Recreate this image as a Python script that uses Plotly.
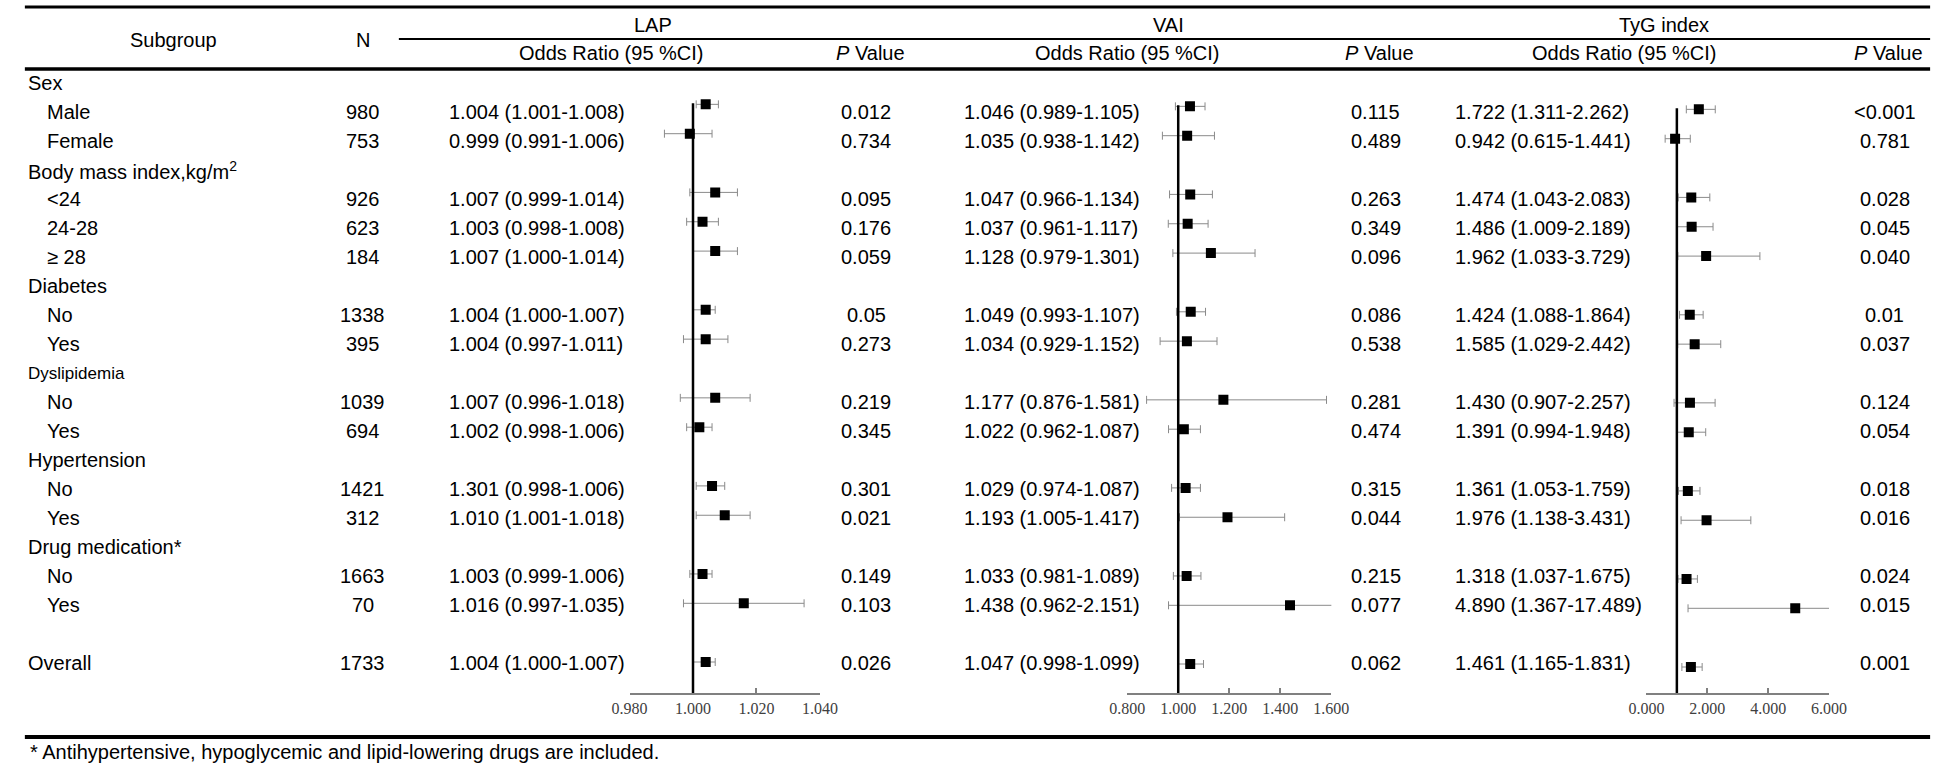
import plotly.graph_objects as go

W, H = 1954, 769

# ---------------- data ----------------
row_labels = ["Sex", "Male", "Female", "Body mass index,kg/m<sup>2</sup>", "<24", "24-28", "≥ 28",
              "Diabetes", "No", "Yes", "Dyslipidemia", "No", "Yes", "Hypertension", "No", "Yes",
              "Drug medication*", "No", "Yes", "Overall"]
row_level = [0, 1, 1, 0, 1, 1, 1, 0, 1, 1, 0, 1, 1, 0, 1, 1, 0, 1, 1, 0]
row_index = [0, 1, 2, 3, 4, 5, 6, 7, 8, 9, 10, 11, 12, 13, 14, 15, 16, 17, 18, 20]

n_values = ["", "980", "753", "", "926", "623", "184", "", "1338", "395", "", "1039", "694", "",
            "1421", "312", "", "1663", "70", "1733"]

# positions in the row lists that carry estimates
data_rows = [1, 2, 4, 5, 6, 8, 9, 11, 12, 14, 15, 17, 18, 19]

lap_text = ["1.004 (1.001-1.008)", "0.999 (0.991-1.006)", "1.007 (0.999-1.014)", "1.003 (0.998-1.008)",
            "1.007 (1.000-1.014)", "1.004 (1.000-1.007)", "1.004 (0.997-1.011)", "1.007 (0.996-1.018)",
            "1.002 (0.998-1.006)", "1.301 (0.998-1.006)", "1.010 (1.001-1.018)", "1.003 (0.999-1.006)",
            "1.016 (0.997-1.035)", "1.004 (1.000-1.007)"]
lap_p = ["0.012", "0.734", "0.095", "0.176", "0.059", "0.05", "0.273", "0.219", "0.345", "0.301",
         "0.021", "0.149", "0.103", "0.026"]
lap_or = [1.004, 0.999, 1.007, 1.003, 1.007, 1.004, 1.004, 1.007, 1.002, 1.006, 1.010, 1.003, 1.016, 1.004]
lap_lo = [1.001, 0.991, 0.999, 0.998, 1.000, 1.000, 0.997, 0.996, 0.998, 1.001, 1.001, 0.999, 0.997, 1.000]
lap_hi = [1.008, 1.006, 1.014, 1.008, 1.014, 1.007, 1.011, 1.018, 1.006, 1.010, 1.018, 1.006, 1.035, 1.007]

vai_text = ["1.046 (0.989-1.105)", "1.035 (0.938-1.142)", "1.047 (0.966-1.134)", "1.037 (0.961-1.117)",
            "1.128 (0.979-1.301)", "1.049 (0.993-1.107)", "1.034 (0.929-1.152)", "1.177 (0.876-1.581)",
            "1.022 (0.962-1.087)", "1.029 (0.974-1.087)", "1.193 (1.005-1.417)", "1.033 (0.981-1.089)",
            "1.438 (0.962-2.151)", "1.047 (0.998-1.099)"]
vai_p = ["0.115", "0.489", "0.263", "0.349", "0.096", "0.086", "0.538", "0.281", "0.474", "0.315",
         "0.044", "0.215", "0.077", "0.062"]
vai_or = [1.046, 1.035, 1.047, 1.037, 1.128, 1.049, 1.034, 1.177, 1.022, 1.029, 1.193, 1.033, 1.438, 1.047]
vai_lo = [0.989, 0.938, 0.966, 0.961, 0.979, 0.993, 0.929, 0.876, 0.962, 0.974, 1.005, 0.981, 0.962, 0.998]
vai_hi = [1.105, 1.142, 1.134, 1.117, 1.301, 1.107, 1.152, 1.581, 1.087, 1.087, 1.417, 1.089, 2.151, 1.099]

tyg_text = ["1.722 (1.311-2.262)", "0.942 (0.615-1.441)", "1.474 (1.043-2.083)", "1.486 (1.009-2.189)",
            "1.962 (1.033-3.729)", "1.424 (1.088-1.864)", "1.585 (1.029-2.442)", "1.430 (0.907-2.257)",
            "1.391 (0.994-1.948)", "1.361 (1.053-1.759)", "1.976 (1.138-3.431)", "1.318 (1.037-1.675)",
            "4.890 (1.367-17.489)", "1.461 (1.165-1.831)"]
tyg_p = ["<0.001", "0.781", "0.028", "0.045", "0.040", "0.01", "0.037", "0.124", "0.054", "0.018",
         "0.016", "0.024", "0.015", "0.001"]
tyg_or = [1.722, 0.942, 1.474, 1.486, 1.962, 1.424, 1.585, 1.430, 1.391, 1.361, 1.976, 1.318, 4.890, 1.461]
tyg_lo = [1.311, 0.615, 1.043, 1.009, 1.033, 1.088, 1.029, 0.907, 0.994, 1.053, 1.138, 1.037, 1.367, 1.165]
tyg_hi = [2.262, 1.441, 2.083, 2.189, 3.729, 1.864, 2.442, 2.257, 1.948, 1.759, 3.431, 1.675, 17.489, 1.831]

lap_ticks = [0.98, 1.00, 1.02, 1.04]
lap_ticktext = ["0.980", "1.000", "1.020", "1.040"]
vai_ticks = [0.8, 1.0, 1.2, 1.4, 1.6]
vai_ticktext = ["0.800", "1.000", "1.200", "1.400", "1.600"]
tyg_ticks = [0, 2, 4, 6]
tyg_ticktext = ["0.000", "2.000", "4.000", "6.000"]

footnote = "* Antihypertensive, hypoglycemic and lipid-lowering drugs are included."

# ---------------- layout helpers ----------------
SANS = "Liberation Sans, Arial, sans-serif"
SERIF = "Liberation Serif, Times New Roman, serif"
AXIS_Y = 693


def px(x):
    return x / W


def py(y):
    return 1 - y / H


def text_y(idx):
    return 83 + 29.0 * idx


def forest_y(idx, off):
    return 75 + off + 29.35 * idx


annotations = []


def add_text(x, y, s, anchor="center", size=20, color="black"):
    annotations.append(dict(x=px(x), y=py(y), xref="paper", yref="paper", text=s, showarrow=False,
                            xanchor=anchor, yanchor="middle",
                            font=dict(family=SANS, size=size, color=color)))


# header
add_text(158, 40, "Subgroup")
add_text(351, 40, "N")
for name, cx in [("LAP", 647), ("VAI", 1172), ("TyG index", 1677)]:
    add_text(cx, 25, name)
for cx in [605, 1130, 1637]:
    add_text(cx, 53, "Odds Ratio (95 %CI)")
for cx in [868, 1387, 1906]:
    add_text(cx, 53, "<i>P</i> Value")

# row labels and N
for lab, lev, idx, n in zip(row_labels, row_level, row_index, n_values):
    size = 17 if lab == "Dyslipidemia" else 20
    add_text(8 if lev == 0 else 28, text_y(idx), lab, anchor="left", size=size)
    if n:
        add_text(351, text_y(idx), n)

# OR text and P values
panels = [
    (lap_text, lap_p, 437, 864),
    (vai_text, vai_p, 962, 1383),
    (tyg_text, tyg_p, 1462, 1902),
]
for txts, ps, x_or, x_p in panels:
    for r, t, p in zip(data_rows, txts, ps):
        idx = row_index[r]
        add_text(x_or, text_y(idx), t, anchor="left")
        add_text(x_p, text_y(idx), p)

add_text(10, 752, footnote, anchor="left")

# ---------------- lines ----------------
shapes = []


def hline(x0, x1, y, w):
    shapes.append(dict(type="line", xref="paper", yref="paper", x0=px(x0), x1=px(x1), y0=py(y), y1=py(y),
                       line=dict(color="black", width=w)))


hline(7, 1948, 7, 3)
hline(388, 1948, 39, 2)
hline(7, 1948, 69, 3.5)
hline(7, 1948, 737, 4)

# ---------------- forest plots ----------------
fig = go.Figure()
forest = [
    ("x", lap_or, lap_lo, lap_hi, 0),
    ("x2", vai_or, vai_lo, vai_hi, 2),
    ("x3", tyg_or, tyg_lo, tyg_hi, 5),
]
for xa, ors, los, his, off in forest:
    ys = [forest_y(row_index[r], off) for r in data_rows]
    fig.add_trace(go.Scatter(
        x=ors, y=ys, xaxis=xa, yaxis="y", mode="markers",
        marker=dict(symbol="square", size=10, color="black", line=dict(width=0)),
        error_x=dict(type="data", symmetric=False,
                     array=[h - o for h, o in zip(his, ors)],
                     arrayminus=[o - l for o, l in zip(ors, los)],
                     color="#8a8a8a", thickness=1, width=4),
        hoverinfo="skip", showlegend=False,
    ))
    shapes.append(dict(type="line", xref=xa, yref="y", x0=1, x1=1, y0=ys[0] - 1, y1=AXIS_Y,
                       line=dict(color="black", width=2.5), layer="above"))


def xaxis(dom, rng, tv, tt):
    return dict(domain=[px(dom[0]), px(dom[1])], range=rng, tickvals=tv, ticktext=tt,
                ticks="inside", ticklen=5, tickwidth=1.5, tickcolor="#808080",
                showline=True, linecolor="#808080", linewidth=1.5, showgrid=False, zeroline=False,
                tickfont=dict(family=SERIF, size=16, color="#404040"), anchor="y", fixedrange=True)


fig.update_layout(
    width=W, height=H, autosize=False,
    margin=dict(l=0, r=0, t=0, b=0, pad=0),
    paper_bgcolor="white", plot_bgcolor="white",
    showlegend=False,
    xaxis=xaxis((623, 817), [0.98, 1.04], lap_ticks, lap_ticktext),
    xaxis2=xaxis((1130, 1338), [0.8, 1.6], vai_ticks, vai_ticktext),
    xaxis3=xaxis((1659, 1845), [0, 6], tyg_ticks, tyg_ticktext),
    yaxis=dict(domain=[1 - AXIS_Y / H, 1], range=[AXIS_Y, 0], visible=False, fixedrange=True),
    annotations=annotations,
    shapes=shapes,
)

fig.write_html("out.html", config={"displayModeBar": False},
               post_script="document.body.style.margin='0';document.body.style.overflow='hidden';")
